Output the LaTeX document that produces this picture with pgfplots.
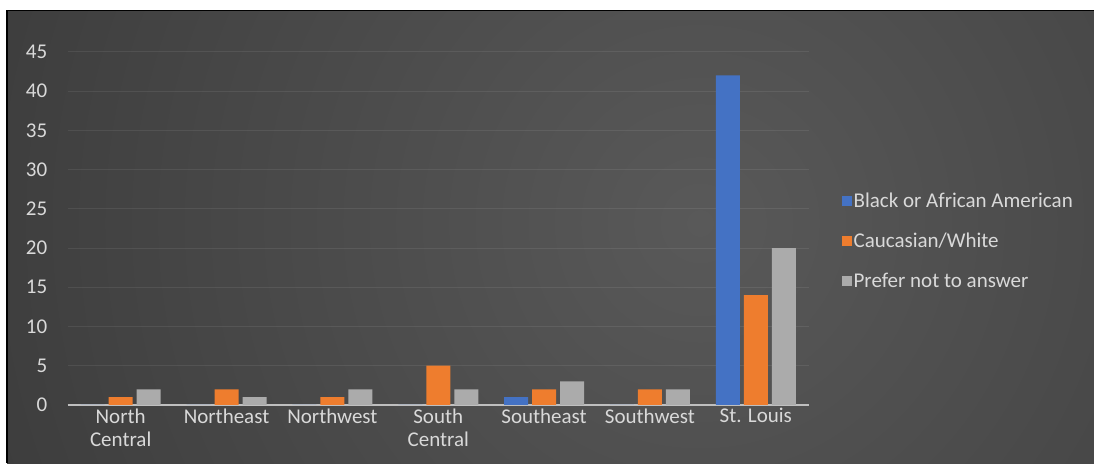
\documentclass[border=0pt]{standalone}
\usepackage{pgfplots}
\pgfplotsset{compat=1.18}
\usepackage{fontspec}
\setmainfont{Carlito}
\definecolor{cblue}{HTML}{4472C4}
\definecolor{corange}{HTML}{EE7D2E}
\definecolor{cgray}{HTML}{ABABAB}
\definecolor{txt}{HTML}{D9D9D9}
\definecolor{bginner}{HTML}{595959}
\definecolor{bgouter}{HTML}{1E1E1E}
\definecolor{zeroline}{HTML}{BFBFBF}
\pgfdeclareradialshading{bgshade}{\pgfpoint{0bp}{0bp}}{color(0bp)=(bginner); color(50bp)=(bgouter)}
\begin{document}
\begin{tikzpicture}[x=1pt,y=1pt]
\fill[white] (0,0) rectangle (1094,463);
\begin{scope}
\clip (7,0) rectangle (1094,452);
\fill[bgouter] (7,0) rectangle (1094,452);
\shade[shading=bgshade] (700,240) circle (780);
\end{scope}
\draw[black, line width=1.5pt] (7,0) -- (7,452.5) -- (1094,452.5);
\begin{axis}[
  at={(64,74)}, anchor=south west,
  scale only axis, width=741pt, height=353pt,
  xmin=-0.5, xmax=6.5, ymin=0, ymax=45,
  ytick={0,5,...,45},
  xtick={0,1,2,3,4,5,6},
  xticklabels={North\\Central, Northeast, Northwest, South\\Central, Southeast, Southwest, St. Louis},
  x tick label style={align=center, yshift=0pt},
  y tick label style={xshift=-17pt},
  tick label style={text=txt, font=\fontsize{21}{23}\selectfont},
  /pgf/number format/assume math mode=true,
  major tick length=0pt,
  axis line style={draw=none},
  ymajorgrids,
  grid style={white, opacity=0.08, line width=1pt},
  extra y ticks={0},
  extra y tick labels={},
  extra y tick style={grid style={zeroline, opacity=1, line width=2pt}},
  ybar=4pt, bar width=24pt,
  legend style={draw=none, fill=none, at={(1.040,0.465)}, anchor=west,
    font=\fontsize{21}{23}\selectfont, text=txt, row sep=20pt},
  legend cell align=left,
  legend image code/.code={\fill[#1] (0pt,-5pt) rectangle (10pt,5pt);},
]
\addplot[fill=cblue, draw=none] coordinates {(0,0) (1,0) (2,0) (3,0) (4,1) (5,0) (6,42)};
\addplot[fill=corange, draw=none] coordinates {(0,1) (1,2) (2,1) (3,5) (4,2) (5,2) (6,14)};
\addplot[fill=cgray, draw=none] coordinates {(0,2) (1,1) (2,2) (3,2) (4,3) (5,2) (6,20)};
\legend{Black or African American, Caucasian/White, Prefer not to answer}
\end{axis}
\pgfresetboundingbox
\useasboundingbox (0,0) rectangle (1094,463);
\end{tikzpicture}
\end{document}
